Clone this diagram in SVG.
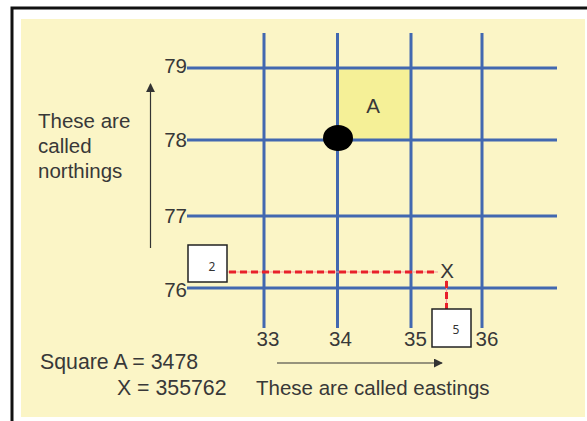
<svg xmlns="http://www.w3.org/2000/svg" width="587" height="421" viewBox="0 0 587 421">
<style>
.t{font-family:"Liberation Sans",Arial,sans-serif;font-size:20.5px;fill:#383838}
.c{font-size:21.3px}
.g{stroke:#4268b0;stroke-width:3;fill:none}
.red{stroke:#e8202a;stroke-width:3;stroke-dasharray:7 4;fill:none}
.pink{stroke:#f29aa0;stroke-width:1.2;fill:none}
.box{fill:#fff;stroke:#222;stroke-width:1.5}
.bt{font-family:"Noto Sans","DejaVu Sans",sans-serif;font-size:12px;fill:#333;text-anchor:middle}
.ax{stroke:#333;stroke-width:1.2;fill:none}
</style>
<defs>
<marker id="ah" viewBox="0 0 10 10" refX="9" refY="5" markerWidth="9" markerHeight="9" markerUnits="userSpaceOnUse" orient="auto">
<path d="M0,0 L10,5 L0,10 z" fill="#333"/>
</marker>
</defs>
<rect x="0" y="0" width="587" height="421" fill="#fff"/>
<path d="M12,421 V8 H587" stroke="#111" stroke-width="3" fill="none"/>
<rect x="21" y="19" width="564" height="398" fill="#fbf5c6"/>
<g id="squareA">
<rect x="338" y="68" width="73" height="72" fill="#f5f097"/>
<text class="t" x="373" y="113" text-anchor="middle">A</text>
</g>
<g id="grid">
<line class="g" x1="187" y1="68" x2="557" y2="68"/>
<line class="g" x1="187" y1="140" x2="557" y2="140"/>
<line class="g" x1="187" y1="216" x2="557" y2="216"/>
<line class="g" x1="187" y1="288" x2="557" y2="288"/>
<line class="g" x1="264" y1="33" x2="264" y2="328"/>
<line class="g" x1="337.5" y1="33" x2="337.5" y2="328"/>
<line class="g" x1="411" y1="33" x2="411" y2="328"/>
<line class="g" x1="482" y1="33" x2="482" y2="328"/>
</g>
<g id="dot"><ellipse cx="338" cy="138" rx="15" ry="13" fill="#000"/></g>
<g id="northing-labels">
<text class="t" x="187" y="73" text-anchor="end">79</text>
<text class="t" x="187" y="147" text-anchor="end">78</text>
<text class="t" x="187" y="223" text-anchor="end">77</text>
<text class="t" x="187" y="297" text-anchor="end">76</text>
</g>
<g id="easting-labels">
<text class="t" x="268" y="346" text-anchor="middle">33</text>
<text class="t" x="340.5" y="346" text-anchor="middle">34</text>
<text class="t" x="415.5" y="346" text-anchor="middle">35</text>
<text class="t" x="487" y="346" text-anchor="middle">36</text>
</g>
<g id="connectors">
<line class="ax" x1="150.5" y1="248" x2="150.5" y2="84" marker-end="url(#ah)"/>
<line class="ax" x1="277" y1="363" x2="442" y2="363" marker-end="url(#ah)"/>
<line class="pink" x1="227" y1="272" x2="438" y2="272"/>
<line class="red" x1="229" y1="272" x2="438" y2="272"/>
<line class="pink" x1="446.5" y1="280" x2="446.5" y2="309"/>
<line class="red" x1="446.5" y1="281" x2="446.5" y2="309"/>
</g>
<g id="northings-text">
<text class="t" x="38" y="128">These are</text>
<text class="t" x="38" y="153">called</text>
<text class="t" x="38" y="178">northings</text>
</g>
<g id="point-X"><text class="t" x="447" y="278" text-anchor="middle">X</text></g>
<g id="box2">
<rect class="box" x="188" y="245" width="39" height="37"/>
<text class="bt" x="212" y="271">2</text>
</g>
<g id="box5">
<rect class="box" x="432" y="309" width="39" height="38"/>
<text class="bt" x="456" y="334">5</text>
</g>
<g id="captions">
<text class="t c" x="40" y="369">Square A = 3478</text>
<text class="t c" x="117" y="395">X = 355762</text>
<text class="t" x="256" y="395">These are called eastings</text>
</g>
</svg>
